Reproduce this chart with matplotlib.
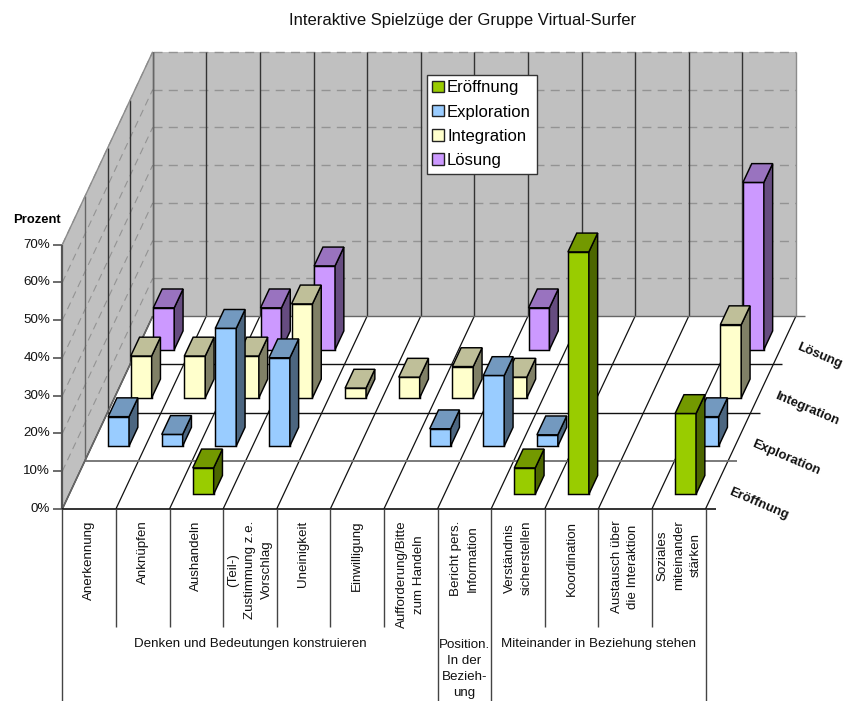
import matplotlib
matplotlib.use("Agg")
import matplotlib.pyplot as plt
from matplotlib.patches import Patch

plt.rcParams["font.family"] = ["Liberation Sans", "DejaVu Sans"]

series_names = ["Eröffnung", "Exploration", "Integration", "Lösung"]
categories = ["Anerkennung", "Anknüpfen", "Aushandeln", "(Teil-)\nZustimmung z.e.\nVorschlag",
              "Uneinigkeit", "Einwilligung", "Aufforderung/Bitte\nzum Handeln",
              "Bericht pers.\nInformation", "Verständnis\nsicherstellen", "Koordination",
              "Austausch über\ndie Interaktion", "Soziales\nmiteinander\nstärken"]
groups = ["Denken und Bedeutungen konstruieren", "Position.\nIn der\nBezieh-\nung",
          "Miteinander in Beziehung stehen"]
group_sizes = [7, 1, 4]
y_ticks = [0, 10, 20, 30, 40, 50, 60, 70]

eroeffnung = [0, 0, 7, 0, 0, 0, 0, 0, 7, 64.2, 0, 21.4]
exploration = [7.8, 3.1, 31.2, 23.4, 0, 0, 4.6, 18.7, 3, 0, 0, 7.8]
integration = [11.1, 11.1, 11.1, 24.9, 2.6, 5.5, 8.3, 5.5, 0, 0, 0, 19.4]
loesung = [11.1, 0, 11.1, 22.2, 0, 0, 0, 11.1, 0, 0, 0, 44.3]
values = [eroeffnung, exploration, integration, loesung]

front_colors = ["#99CC00", "#99CCFF", "#FFFFCC", "#CC99FF"]
top_colors = ["#739900", "#7399BF", "#BFBF99", "#9973BF"]
side_colors = ["#4C6600", "#4C6680", "#808066", "#664C80"]

# oblique projection, in pixels of the figure
X0, Y0 = 62.3, 509.0
CAT_W = 53.6
DEPTH_X, DEPTH_Y = 22.6, -48.2
PCT = 3.776
BAR = 0.39


def proj(cat, ser, val=0):
    return (X0 + cat * CAT_W + ser * DEPTH_X, Y0 + ser * DEPTH_Y - val * PCT)


n_cat = len(categories)
n_ser = len(series_names)

fig = plt.figure(figsize=(8.44, 7.01), dpi=100)
ax = fig.add_axes([0, 0, 1, 1])
ax.set_xlim(0, 844)
ax.set_ylim(701, 0)
ax.axis("off")

LINE = "#333333"
GRID = "#939393"
dash = (0, (6.5, 4.5))


def line(p, q, color=LINE, lw=1.0, **kw):
    ax.plot([p[0], q[0]], [p[1], q[1]], color=color, lw=lw, zorder=2,
            solid_capstyle="butt", **kw)


# walls and floor
top = y_ticks[-1]
wall = "#C0C0C0"
ax.fill(*zip(proj(0, n_ser), proj(n_cat, n_ser), proj(n_cat, n_ser, top), proj(0, n_ser, top)),
        color=wall, lw=0, zorder=1)
ax.fill(*zip(proj(0, 0), proj(0, n_ser), proj(0, n_ser, top), proj(0, 0, top)),
        color=wall, lw=0, zorder=1)

for t in y_ticks[1:]:
    line(proj(0, n_ser, t), proj(n_cat, n_ser, t), color=GRID, lw=1.0, linestyle=dash)
    line(proj(0, 0, t), proj(0, n_ser, t), color=GRID, lw=0.8, linestyle=dash)
    line(proj(0, 0, t), (proj(0, 0, t)[0] - 9.5, proj(0, 0, t)[1]), color="#444444", lw=1.1)

for i in range(n_cat + 1):
    line(proj(i, 0), proj(i, n_ser), color="#111111", lw=0.9)
    line(proj(i, n_ser), proj(i, n_ser, top), color="#8c8c8c" if i == n_cat else LINE)
for s in range(1, n_ser + 1):
    line(proj(0, s), proj(0, s, top), color="#666666" if s in (1, 4) else LINE)
    if s == n_ser:
        color = "#666666"
    elif s == 1:
        color = "#707070"
    else:
        color = "#111111"
    p, q = proj(0, s), proj(n_cat, s)
    line(p, (q[0] + 9, q[1]), color=color, lw=1.3 if s == 1 else 1.0)
line(proj(0, n_ser, top), proj(0, 0, top), color="#8c8c8c")
line(proj(0, 0), proj(0, n_ser), color="#666666", lw=1.2)
line(proj(0, 0), proj(0, 0, top), color="#555555", lw=1.6)
line(proj(0, 0), (proj(n_cat, 0)[0] + 10, Y0), color="#111111", lw=1.2)
line(proj(0, 0), (X0 - 9.5, Y0), color="#444444", lw=1.1)

# bars, back row first so nearer rows cover them
pad = (1 - BAR) / 2
for s in reversed(range(n_ser)):
    for c in range(n_cat):
        v = values[s][c]
        if v == 0:
            continue
        a = proj(c + pad, s + pad)
        b = proj(c + pad + BAR, s + pad)
        d = proj(c + pad + BAR, s + pad + BAR)
        e = proj(c + pad, s + pad + BAR)
        h = v * PCT
        faces = [
            ([a, b, (b[0], b[1] - h), (a[0], a[1] - h)], front_colors[s]),
            ([b, d, (d[0], d[1] - h), (b[0], b[1] - h)], side_colors[s]),
            ([(a[0], a[1] - h), (b[0], b[1] - h), (d[0], d[1] - h), (e[0], e[1] - h)], top_colors[s]),
        ]
        for pts, col in faces:
            ax.fill(*zip(*pts), facecolor=col, edgecolor="black", lw=1.05,
                    joinstyle="miter", zorder=3)

# y axis labels
for t in y_ticks:
    ax.text(X0 - 12, proj(0, 0, t)[1], f"{t}%", ha="right", va="center", fontsize=9.65, color="#111111")
ax.text(13, 220, "Prozent", ha="left", va="center", fontsize=9.4, fontweight="bold", color="black")

# series names along the right floor edge
for s, name in enumerate(series_names):
    x, y = proj(n_cat, s + 0.5)
    ax.text(x + 13, y + 6.6, name, rotation=-23, rotation_mode="anchor", ha="left", va="center",
            fontsize=9.5, fontweight="bold", color="#111111")

# category table under the chart
group_edges = [0]
for g in group_sizes:
    group_edges.append(group_edges[-1] + g)
for i in range(n_cat + 1):
    x = proj(i, 0)[0]
    bottom = 701 if i in group_edges else 626.5
    ax.plot([x, x], [Y0, bottom], color="#444444", lw=1.0, zorder=2, solid_capstyle="butt")
for i, label in enumerate(categories):
    ax.text(proj(i + 0.5, 0)[0], 520.5, label, rotation=90, ha="center", va="top",
            multialignment="center", fontsize=9.65, linespacing=1.52, color="#111111")
for g, label in enumerate(groups):
    xc = proj((group_edges[g] + group_edges[g + 1]) / 2, 0)[0]
    ax.text(xc, 638.5, label, ha="center", va="top", multialignment="center",
            fontsize=9.65, linespacing=1.48, color="#111111")

ax.text(462.5, 20.5, "Interaktive Spielzüge der Gruppe Virtual-Surfer", ha="center", va="center",
        fontsize=12, color="#111111")

handles = [Patch(facecolor=c, edgecolor="#222222", lw=1.0) for c in front_colors]
leg = ax.legend(handles, series_names, loc="upper left", bbox_to_anchor=(426.7, 74.7),
                bbox_transform=ax.transData, fontsize=12, frameon=True, fancybox=False,
                framealpha=1, edgecolor="#333333", borderaxespad=0, borderpad=0.34,
                handlelength=0.68, handleheight=0.68, handletextpad=0.2, labelspacing=0.55)
leg.get_frame().set_linewidth(1.0)
leg.set_zorder(4)

fig.savefig("out.png", dpi=100)
